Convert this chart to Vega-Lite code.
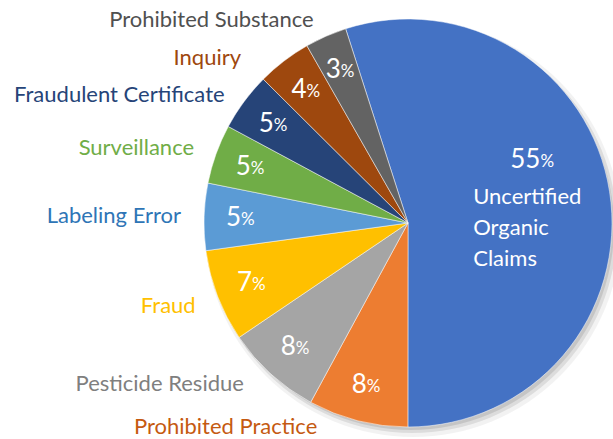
{
  "$schema": "https://vega.github.io/schema/vega-lite/v6.json",
  "width": 408,
  "height": 408,
  "autosize": {"type": "none"},
  "padding": {"left": 204, "top": 19, "right": 1, "bottom": 12},
  "background": "white",
  "config": {"view": {"stroke": null}, "font": "Lato"},
  "data": {
    "values": [
      {"cat": "Uncertified Organic Claims", "value": 54.9, "pct": 55, "ord": 1},
      {"cat": "Prohibited Practice", "value": 7.9, "pct": 8, "ord": 2},
      {"cat": "Pesticide Residue", "value": 7.6, "pct": 8, "ord": 3},
      {"cat": "Fraud", "value": 7.3, "pct": 7, "ord": 4},
      {"cat": "Labeling Error", "value": 5.3, "pct": 5, "ord": 5},
      {"cat": "Surveillance", "value": 4.7, "pct": 5, "ord": 6},
      {"cat": "Fraudulent Certificate", "value": 4.6, "pct": 5, "ord": 7},
      {"cat": "Inquiry", "value": 4.3, "pct": 4, "ord": 8},
      {"cat": "Prohibited Substance", "value": 3.3, "pct": 3, "ord": 9}
    ]
  },
  "resolve": {"scale": {"color": "independent"}},
  "layer": [
    {
      "data": {"values": [{}]},
      "mark": {"type": "arc", "theta": 0, "theta2": 6.2832, "radius": 208, "color": "#000000", "opacity": 0.05, "xOffset": 5, "yOffset": 6},
      "encoding": {}
    },
    {
      "data": {"values": [{}]},
      "mark": {"type": "arc", "theta": 0, "theta2": 6.2832, "radius": 205, "color": "#000000", "opacity": 0.09, "xOffset": 4, "yOffset": 5},
      "encoding": {}
    },
    {
      "data": {"values": [{}]},
      "mark": {"type": "arc", "theta": 0, "theta2": 6.2832, "radius": 203, "color": "#000000", "opacity": 0.1, "xOffset": 3, "yOffset": 4},
      "encoding": {}
    },
    {
      "mark": {"type": "arc", "stroke": "#ffffff", "strokeWidth": 0.5},
      "encoding": {
        "theta": {"field": "value", "type": "quantitative", "stack": true, "scale": {"range": [-0.3107, 5.9725]}},
        "order": {"field": "ord", "type": "quantitative"},
        "color": {
          "field": "cat", "type": "nominal", "legend": null,
          "scale": {
            "domain": ["Uncertified Organic Claims", "Prohibited Practice", "Pesticide Residue", "Fraud", "Labeling Error", "Surveillance", "Fraudulent Certificate", "Inquiry", "Prohibited Substance"],
            "range": ["#4472C4", "#ED7D31", "#A5A5A5", "#FFC000", "#5B9BD5", "#70AD47", "#264478", "#9E480E", "#636363"]
          }
        }
      }
    },
    {
      "mark": {"type": "text", "radius": 167, "align": "right", "baseline": "middle", "fontSize": 26, "color": "white"},
      "encoding": {
        "theta": {"field": "value", "type": "quantitative", "stack": true},
        "order": {"field": "ord", "type": "quantitative"},
        "text": {"condition": {"test": "datum.cat === 'Uncertified Organic Claims'", "value": ""}, "field": "pct", "type": "quantitative"}
      }
    },
    {
      "mark": {"type": "text", "radius": 167, "align": "left", "baseline": "middle", "fontSize": 17, "color": "white", "dy": 2},
      "encoding": {
        "theta": {"field": "value", "type": "quantitative", "stack": true},
        "order": {"field": "ord", "type": "quantitative"},
        "text": {"condition": {"test": "datum.cat === 'Uncertified Organic Claims'", "value": ""}, "value": "%"}
      }
    },
    {
      "mark": {"type": "text", "radius": 134, "align": "right", "baseline": "middle", "fontSize": 26, "color": "white", "dy": -42},
      "encoding": {
        "theta": {"field": "value", "type": "quantitative", "stack": true},
        "order": {"field": "ord", "type": "quantitative"},
        "text": {"condition": {"test": "datum.cat !== 'Uncertified Organic Claims'", "value": ""}, "field": "pct", "type": "quantitative"}
      }
    },
    {
      "mark": {"type": "text", "radius": 134, "align": "left", "baseline": "middle", "fontSize": 17, "color": "white", "dy": -40},
      "encoding": {
        "theta": {"field": "value", "type": "quantitative", "stack": true},
        "order": {"field": "ord", "type": "quantitative"},
        "text": {"condition": {"test": "datum.cat !== 'Uncertified Organic Claims'", "value": ""}, "value": "%"}
      }
    },
    {
      "mark": {"type": "text", "radius": 66, "align": "left", "baseline": "middle", "fontSize": 22, "color": "white", "dy": -16, "lineBreak": " ", "lineHeight": 31},
      "encoding": {
        "theta": {"field": "value", "type": "quantitative", "stack": true},
        "order": {"field": "ord", "type": "quantitative"},
        "text": {"condition": {"test": "datum.cat !== 'Uncertified Organic Claims'", "value": ""}, "field": "cat", "type": "nominal"}
      }
    },
    {
      "mark": {
        "type": "text", "radius": 222, "align": "right", "baseline": "middle", "fontSize": 22,
        "dx": {"expr": "datum.cat === 'Inquiry' ? -32 : datum.cat === 'Prohibited Practice' ? -36 : datum.cat === 'Pesticide Residue' ? -15 : -5"},
        "dy": {"expr": "datum.cat === 'Inquiry' ? 11 : datum.cat === 'Prohibited Practice' ? -11 : datum.cat === 'Fraudulent Certificate' ? 4 : datum.cat === 'Fraud' ? 4 : datum.cat === 'Pesticide Residue' ? -3 : 0"}
      },
      "encoding": {
        "theta": {"field": "value", "type": "quantitative", "stack": true},
        "order": {"field": "ord", "type": "quantitative"},
        "text": {"condition": {"test": "datum.cat === 'Uncertified Organic Claims'", "value": ""}, "field": "cat", "type": "nominal"},
        "color": {
          "field": "cat", "type": "nominal", "legend": null,
          "scale": {
            "domain": ["Uncertified Organic Claims", "Prohibited Practice", "Pesticide Residue", "Fraud", "Labeling Error", "Surveillance", "Fraudulent Certificate", "Inquiry", "Prohibited Substance"],
            "range": ["#4472C4", "#C55A11", "#7F7F7F", "#FFC000", "#2E75B6", "#70AD47", "#264478", "#9E480E", "#505050"]
          }
        }
      }
    }
  ]
}
